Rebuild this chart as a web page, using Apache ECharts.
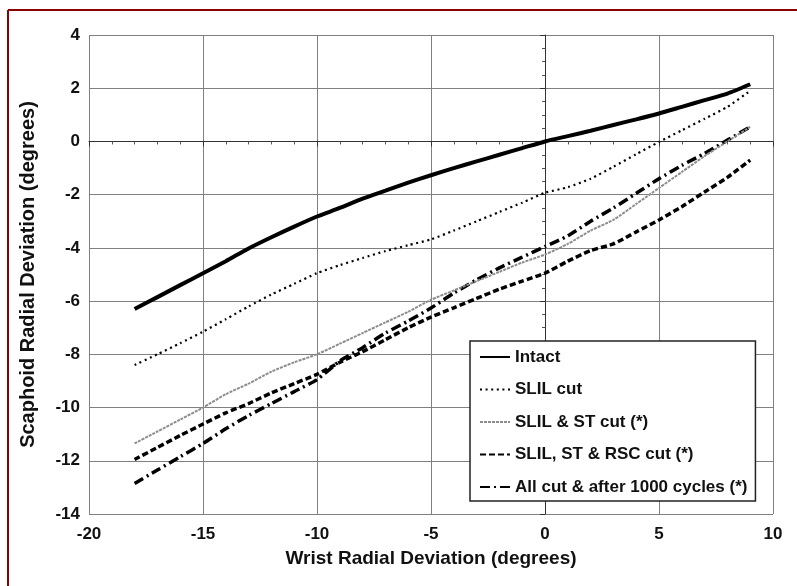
<!DOCTYPE html>
<html>
<head>
<meta charset="utf-8">
<script src="https://cdn.jsdelivr.net/npm/echarts@6/dist/echarts.min.js"></script>
<style>
html,body{margin:0;padding:0;background:#fff;}
#chart{width:797px;height:586px;}
</style>
</head>
<body>
<div id="chart"></div>
<script>
// Wrist radial deviation (degrees)
const wristDeviation = [-18,-17,-16,-15,-14,-13,-12,-11,-10,-9,-8,-7,-6,-5,-4,-3,-2,-1,0,1,2,3,4,5,6,7,8,9];
const intact      = [-6.3,-5.85,-5.4,-4.95,-4.5,-4.02,-3.6,-3.2,-2.82,-2.5,-2.15,-1.85,-1.55,-1.27,-1.0,-0.75,-0.5,-0.25,0.0,0.2,0.4,0.62,0.83,1.05,1.3,1.55,1.8,2.15];
const slilCut     = [-8.4,-8.0,-7.58,-7.15,-6.68,-6.2,-5.75,-5.35,-4.95,-4.65,-4.38,-4.12,-3.9,-3.68,-3.35,-3.0,-2.65,-2.3,-1.93,-1.72,-1.4,-0.95,-0.48,-0.02,0.42,0.85,1.3,1.9];
const slilStCut   = [-11.35,-10.9,-10.45,-10.0,-9.5,-9.1,-8.65,-8.3,-8.0,-7.6,-7.2,-6.8,-6.4,-5.95,-5.6,-5.25,-4.9,-4.55,-4.25,-3.85,-3.35,-2.95,-2.35,-1.75,-1.15,-0.55,0.0,0.55];
const slilStRscCut= [-11.95,-11.5,-11.05,-10.62,-10.2,-9.85,-9.45,-9.1,-8.75,-8.3,-7.9,-7.45,-7.0,-6.6,-6.25,-5.9,-5.55,-5.25,-4.95,-4.5,-4.1,-3.85,-3.4,-2.95,-2.45,-1.9,-1.35,-0.7];
const allCut1000  = [-12.85,-12.35,-11.85,-11.35,-10.8,-10.3,-9.85,-9.4,-8.95,-8.25,-7.75,-7.2,-6.75,-6.26,-5.7,-5.2,-4.75,-4.35,-3.95,-3.55,-3.0,-2.5,-1.95,-1.4,-0.9,-0.45,0.05,0.55];
const seriesNames = ['Intact','SLIL cut','SLIL & ST cut (*)','SLIL, ST & RSC cut (*)','All cut & after 1000 cycles (*)'];
const xAxisTitle = 'Wrist Radial Deviation (degrees)';
const yAxisTitle = 'Scaphoid Radial Deviation (degrees)';

const pairs = ys => wristDeviation.map((x, i) => [x, ys[i]]);
const FONT = 'Liberation Sans, Arial, sans-serif';

const styles = [
  {color:'#000', width:4, type:'solid'},
  {color:'#000', width:2.2, type:[2,3.6]},
  {color:'#8c8c8c', width:2, type:[3,1]},
  {color:'#000', width:3.5, type:[6,3]},
  {color:'#000', width:3.5, type:[10,4,2,4]}
];
const dataSets = [intact, slilCut, slilStCut, slilStRscCut, allCut1000];

const chart = echarts.init(document.getElementById('chart'), null, {renderer:'canvas'});
chart.setOption({
  backgroundColor:'#fff',
  animation:false,
  grid:{left:89, right:24, top:35, bottom:72},
  xAxis:{
    type:'value', min:-20, max:10, interval:5,
    name:xAxisTitle, nameLocation:'middle', nameGap:35,
    nameTextStyle:{fontFamily:FONT, fontWeight:'bold', fontSize:19, color:'#111'},
    axisLine:{lineStyle:{color:'#333', width:1}},
    axisTick:{show:true, length:5, lineStyle:{color:'#333'}},
    minorTick:{show:true, splitNumber:5, length:3, lineStyle:{color:'#555'}},
    axisLabel:{fontFamily:FONT, fontWeight:'bold', fontSize:17, color:'#111', margin:12},
    splitLine:{show:true, lineStyle:{color:'#808080', width:1}}
  },
  yAxis:{
    type:'value', min:-14, max:4, interval:2,
    name:yAxisTitle, nameLocation:'middle', nameGap:51,
    nameTextStyle:{fontFamily:FONT, fontWeight:'bold', fontSize:20, color:'#111'},
    axisLine:{show:true, lineStyle:{color:'#333', width:1}},
    axisTick:{show:true, length:5, lineStyle:{color:'#333'}},
    minorTick:{show:true, splitNumber:4, length:3, lineStyle:{color:'#555'}},
    axisLabel:{fontFamily:FONT, fontWeight:'bold', fontSize:17, color:'#111', margin:9},
    splitLine:{show:true, lineStyle:{color:'#808080', width:1}}
  },
  legend:{
    orient:'vertical', left:470, top:341,
    itemWidth:30, itemHeight:14, itemGap:12.5,
    padding:[6,8,4,9],
    backgroundColor:'#fff', borderColor:'#222', borderWidth:1.5,
    itemStyle:{opacity:0},
    textStyle:{fontFamily:FONT, fontWeight:'bold', fontSize:17, color:'#111', lineHeight:20},
    data:seriesNames
  },
  series: seriesNames.map((n, i) => ({
    name:n, type:'line', data:pairs(dataSets[i]),
    showSymbol:false, symbol:'none', smooth:0.2,
    lineStyle:styles[i], itemStyle:{color:styles[i].color},
    z: 10 - i
  })),
  graphic:[
    {type:'line', shape:{x1:8, y1:10, x2:797, y2:10}, style:{stroke:'#8b0000', lineWidth:2}},
    {type:'line', shape:{x1:8, y1:10, x2:8, y2:586}, style:{stroke:'#8b0000', lineWidth:2}}
  ]
});
</script>
</body>
</html>
